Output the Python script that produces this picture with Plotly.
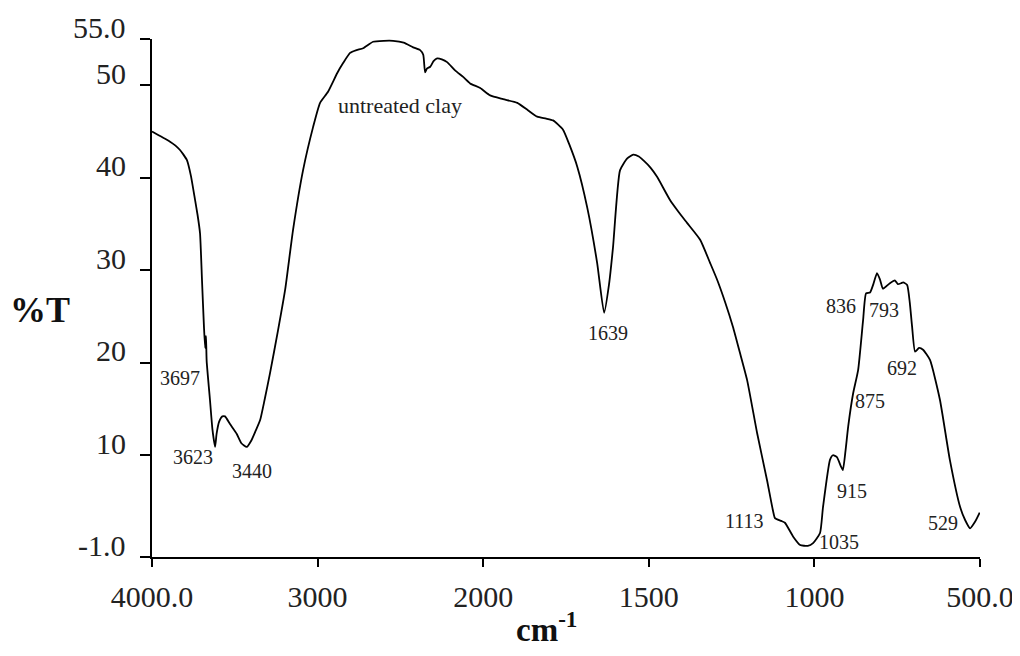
import plotly.graph_objects as go

# FTIR spectrum of untreated clay
wavenumber = [4000, 3960, 3930, 3891, 3860, 3831, 3810, 3789, 3765, 3740, 3725, 3710,
              3698, 3686, 3679, 3674, 3670, 3650, 3635, 3619, 3610, 3595, 3575, 3559,
              3530, 3488, 3460, 3428, 3400, 3375, 3347, 3320, 3287, 3239, 3196, 3148,
              3088, 3027, 2985, 2937, 2882, 2846, 2804, 2765, 2725, 2665, 2600, 2544,
              2480, 2423, 2381, 2362, 2351, 2340, 2320, 2300, 2278, 2250, 2218, 2170,
              2121, 2079, 2018, 1979, 1940, 1897, 1865, 1837, 1810, 1789, 1759, 1740,
              1716, 1686, 1656, 1635, 1620, 1608, 1587, 1565, 1547, 1530, 1517, 1495,
              1475, 1436, 1410, 1384, 1345, 1315, 1294, 1270, 1246, 1225, 1203, 1173,
              1143, 1125, 1119, 1100, 1089, 1064, 1043, 1020, 1004, 983, 974, 953,
              944, 932, 920, 914, 906, 898, 883, 868, 853, 844, 832, 822, 811, 802,
              793, 782, 772, 757, 748, 738, 732, 720, 712, 705, 696, 684, 672, 651,
              621, 591, 560, 545, 530, 515, 501]
transmittance = [45.0, 44.6, 44.3, 43.9, 43.5, 43.0, 42.5, 41.9, 40.2, 37.6, 36.0, 34.0,
                 28.9, 23.8, 21.6, 22.9, 20.2, 16.0, 12.8, 10.9, 12.3, 13.6, 14.2, 14.2,
                 13.4, 12.3, 11.3, 10.9, 11.6, 12.6, 13.8, 16.0, 18.9, 23.5, 27.9, 34.4,
                 40.8, 45.5, 48.1, 49.3, 51.3, 52.4, 53.5, 53.8, 54.0, 54.7, 54.8, 54.8,
                 54.6, 54.1, 53.8, 53.3, 51.4, 51.8, 52.0, 52.6, 52.9, 52.8, 52.5, 51.6,
                 50.9, 50.2, 49.7, 48.9, 48.5, 48.1, 47.3, 46.6, 46.4, 46.2, 45.2, 43.6,
                 41.2, 36.8, 30.8, 25.4, 28.5, 32.5, 40.8, 42.1, 42.5, 42.3, 41.9, 41.1,
                 40.1, 37.6, 36.3, 35.1, 33.3, 30.8, 29.0, 26.6, 23.9, 21.1, 18.1, 12.4,
                 7.3, 4.0, 3.2, 2.9, 2.7, 1.2, 0.3, 0.2, 0.5, 1.6, 4.4, 9.5,
                 10.0, 9.8, 8.8, 8.4, 10.5, 13.1, 16.7, 19.2, 24.6, 27.5, 27.6, 28.5, 29.7, 29.0,
                 28.0, 28.3, 28.6, 28.9, 28.5, 28.6, 28.7, 28.4, 26.5, 23.9, 21.2, 21.6, 21.4, 20.3,
                 16.0, 9.5, 4.4, 3.0, 2.1, 2.8, 3.8]

# peak labels: text, wavenumber position, %T position
label_text = ["3697", "3623", "3440", "1639", "1113", "1035", "915", "875",
              "836", "793", "692", "529", "untreated clay"]
label_wn = [3831, 3752, 3396, 1624, 1212, 926, 886, 833, 920, 790, 735, 612, 2502]
label_t = [18.4, 9.8, 8.3, 23.2, 2.9, 0.6, 6.1, 15.9, 26.1, 25.7, 19.4, 2.7, 47.8]

# axis ticks
x_tick_wn = [4000, 3000, 2000, 1500, 1000, 500]
x_tick_text = ["4000.0", "3000", "2000", "1500", "1000", "500.0"]
y_tick_vals = [-1, 10, 20, 30, 40, 50, 55]
y_tick_text = ["-1.0", "10", "20", "30", "40", "50", "55.0"]


def scale_x(w):
    # FTIR convention: region above 2000 cm-1 compressed by a factor of 2
    return w if w <= 2000 else 2000 + (w - 2000) / 2.0


FONT = "Liberation Serif, Times New Roman, serif"

fig = go.Figure()
fig.add_trace(go.Scatter(
    x=[scale_x(w) for w in wavenumber], y=transmittance,
    mode="lines", line=dict(color="black", width=1.8, shape="spline", smoothing=0.5),
    showlegend=False, hoverinfo="skip"))

for t, w, v in zip(label_text, label_wn, label_t):
    fig.add_annotation(x=scale_x(w), y=v, text=t, showarrow=False,
                       xanchor="center", yanchor="middle",
                       font=dict(family=FONT, size=20 if t != "untreated clay" else 22,
                                 color="#222"))

# y tick labels sit slightly above their tick marks in the original
for v, t in zip(y_tick_vals, y_tick_text):
    fig.add_annotation(xref="paper", yref="y", x=0, y=v, text=t, showarrow=False,
                       xanchor="right", yanchor="middle", xshift=-24, yshift=12,
                       font=dict(family=FONT, size=30, color="#222"))

fig.add_annotation(xref="paper", yref="paper", x=-0.135, y=0.477, text="<b>%T</b>",
                   showarrow=False, xanchor="center", yanchor="middle",
                   font=dict(family=FONT, size=36, color="#111"))
fig.add_annotation(xref="paper", yref="paper", x=0.476, y=-0.136,
                   text="<b>cm<sup>-1</sup></b>",
                   showarrow=False, xanchor="center", yanchor="middle",
                   font=dict(family=FONT, size=33, color="#111"))

# page body has an 8px margin: size the figure so it fills the 1020x656 window
fig.update_layout(
    width=1012, height=640,
    margin=dict(l=144, r=40, t=31, b=91),
    paper_bgcolor="white", plot_bgcolor="white",
    xaxis=dict(range=[scale_x(4000), scale_x(500)], autorange=False, automargin=False,
               tickvals=[scale_x(w) for w in x_tick_wn], ticktext=x_tick_text,
               showgrid=False, zeroline=False, showline=True, linecolor="black",
               linewidth=2, ticks="outside", ticklen=8, tickwidth=2, tickcolor="black",
               ticklabelstandoff=4, ticklabeloverflow="allow",
               tickfont=dict(family=FONT, size=30, color="#222")),
    yaxis=dict(range=[-1, 55], autorange=False, automargin=False,
               tickvals=y_tick_vals, showticklabels=False,
               showgrid=False, zeroline=False, showline=True, linecolor="black",
               linewidth=2, ticks="outside", ticklen=10, tickwidth=2, tickcolor="black"),
)

fig.write_html("out.html")
